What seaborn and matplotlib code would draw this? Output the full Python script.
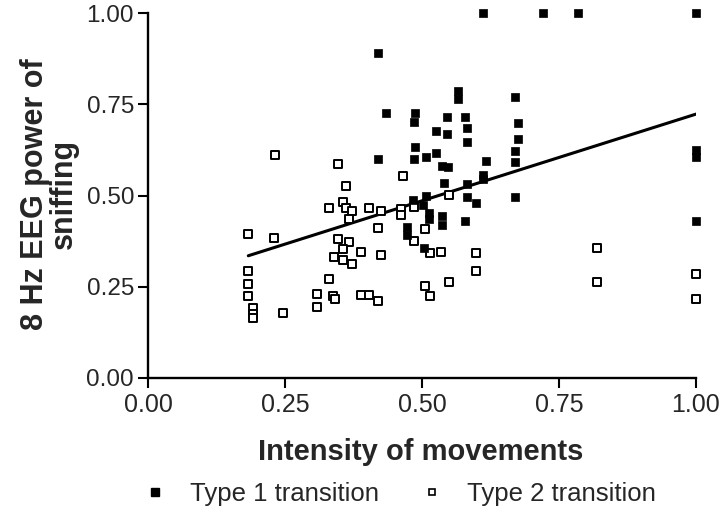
import numpy as np
import pandas as pd
import matplotlib
matplotlib.use("Agg")
import matplotlib.pyplot as plt
import seaborn as sns
from matplotlib.lines import Line2D

# ---- data ----
type1_x = [0.611, 0.720, 0.784, 1.000, 0.419, 0.565, 0.565, 0.669, 0.435, 0.488,
           0.486, 0.545, 0.578, 0.676, 0.583, 0.525, 0.545, 0.676, 0.583, 0.488,
           0.669, 0.419, 0.486, 0.508, 0.525, 0.616, 0.669, 0.536, 0.548, 0.611,
           0.611, 0.541, 0.583, 0.508, 0.484, 0.583, 0.598, 0.669, 0.501, 0.512,
           0.512, 0.536, 0.536, 0.578, 0.473, 0.473, 0.503, 1.000, 1.000, 1.000]
type1_y = [1.000, 1.000, 1.000, 1.000, 0.890, 0.786, 0.764, 0.770, 0.726, 0.726,
           0.701, 0.715, 0.715, 0.699, 0.685, 0.677, 0.668, 0.655, 0.647, 0.633,
           0.622, 0.600, 0.600, 0.605, 0.616, 0.595, 0.592, 0.581, 0.578, 0.556,
           0.545, 0.534, 0.532, 0.499, 0.488, 0.496, 0.479, 0.496, 0.474, 0.452,
           0.436, 0.444, 0.419, 0.430, 0.414, 0.392, 0.356, 0.625, 0.605, 0.430]

type2_x = [0.232, 0.346, 0.362, 0.466, 0.550, 0.331, 0.355, 0.362, 0.373, 0.367,
           0.404, 0.426, 0.461, 0.461, 0.486, 0.419, 0.505, 0.486, 0.514, 0.534,
           0.598, 0.598, 0.550, 0.505, 0.514, 0.183, 0.230, 0.346, 0.367, 0.355,
           0.389, 0.426, 0.340, 0.355, 0.373, 0.183, 0.183, 0.183, 0.192, 0.192,
           0.192, 0.247, 0.331, 0.309, 0.309, 0.338, 0.342, 0.389, 0.404, 0.419,
           0.819, 0.819, 1.000, 1.000]
type2_y = [0.611, 0.586, 0.526, 0.553, 0.501, 0.466, 0.482, 0.466, 0.458, 0.436,
           0.466, 0.458, 0.463, 0.447, 0.468, 0.411, 0.408, 0.375, 0.342, 0.345,
           0.342, 0.293, 0.263, 0.252, 0.225, 0.395, 0.384, 0.381, 0.373, 0.353,
           0.345, 0.337, 0.332, 0.323, 0.312, 0.293, 0.258, 0.225, 0.192, 0.175,
           0.164, 0.178, 0.271, 0.230, 0.195, 0.225, 0.216, 0.227, 0.227, 0.211,
           0.356, 0.263, 0.285, 0.216]

fit_intercept = 0.248
fit_slope = 0.475

series_labels = ["Type 1 transition", "Type 2 transition"]
x_ticks = [0.00, 0.25, 0.50, 0.75, 1.00]
y_ticks = [0.00, 0.25, 0.50, 0.75, 1.00]
x_label = "Intensity of movements"
y_label = "8 Hz EEG power of\nsniffing"

# ---- build frames ----
df1 = pd.DataFrame({"x": type1_x, "y": type1_y})
df2 = pd.DataFrame({"x": type2_x, "y": type2_y})
all_x = np.array(type1_x + type2_x)
fit_x = np.array([all_x.min(), all_x.max()])
df_fit = pd.DataFrame({"x": fit_x, "y": fit_intercept + fit_slope * fit_x})

sns.set_theme(style="ticks")
plt.rcParams["font.family"] = ["Liberation Sans", "DejaVu Sans"]

fig = plt.figure(figsize=(7.2, 5.16), dpi=100)
ax = fig.add_axes([148 / 720, 1 - 378 / 516, 548 / 720, 365 / 516])

sns.lineplot(data=df_fit, x="x", y="y", ax=ax, color="black", linewidth=2.2, zorder=2)
sns.scatterplot(data=df2, x="x", y="y", ax=ax, marker="s", s=30,
                facecolor="white", edgecolor="black", linewidth=1.4, zorder=3,
                clip_on=False)
sns.scatterplot(data=df1, x="x", y="y", ax=ax, marker="s", s=38,
                color="black", edgecolor="black", linewidth=0.5, zorder=4,
                clip_on=False)

ax.set_xlim(0, 1.0)
ax.set_ylim(0, 1.0)
ax.set_xticks(x_ticks)
ax.set_yticks(y_ticks)
ax.set_xticklabels([f"{t:.2f}" for t in x_ticks], fontsize=18)
ax.set_yticklabels([f"{t:.2f}" for t in y_ticks], fontsize=17.5)
ax.tick_params(direction="out", length=7, width=1.5, color="black")
ax.tick_params(axis="x", pad=4)
ax.tick_params(axis="y", pad=3)

for side in ["top", "right"]:
    ax.spines[side].set_visible(False)
for side in ["left", "bottom"]:
    ax.spines[side].set_linewidth(1.7)
    ax.spines[side].set_color("black")
ax.spines["left"].set_bounds(0, 1)
ax.spines["bottom"].set_bounds(0, 1)

ax.set_xlabel(x_label, fontsize=21, fontweight="bold")
ax.set_ylabel(y_label, fontsize=22, fontweight="bold", linespacing=0.92,
              multialignment="center")
ax.xaxis.set_label_coords(0.498, -0.203)
ax.xaxis.label.set_va("center")
ax.yaxis.set_label_coords(-0.18, 0.505)
ax.yaxis.label.set_va("center")

handles = [
    Line2D([], [], marker="s", linestyle="none", markersize=5.5,
           markerfacecolor="black", markeredgecolor="black"),
    Line2D([], [], marker="s", linestyle="none", markersize=5,
           markerfacecolor="white", markeredgecolor="black", markeredgewidth=1.2),
]
fig.legend(handles, series_labels, loc="center", bbox_to_anchor=(399 / 720, 1 - 494 / 516),
           ncol=2, frameon=False, fontsize=18.5, handlelength=1.0, handletextpad=0.85,
           columnspacing=1.6, borderpad=0.0)

fig.savefig("out.png", dpi=100, facecolor="white")
